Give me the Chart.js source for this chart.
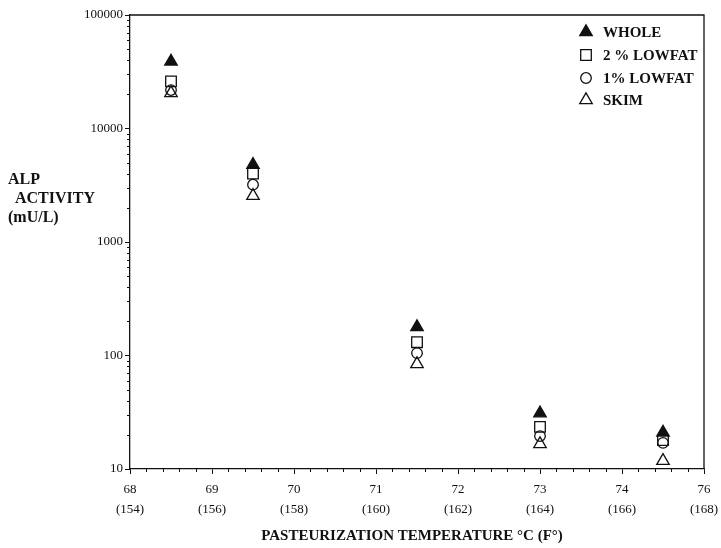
<!DOCTYPE html>
<html>
<head>
<meta charset="utf-8">
<script src="https://cdn.jsdelivr.net/npm/chart.js@4.4.1/dist/chart.umd.min.js"></script>
<style>
  body { margin: 0; background: #fff; }
  canvas { display: block; }
</style>
</head>
<body>
<canvas id="alp" width="721" height="548"></canvas>
<script>
// values (mU/L)
const temps = [68.5, 69.5, 71.5, 73, 74.5];
const whole = [39000, 4800, 178, 31, 21];
const lowfat2 = [26000, 4000, 131, 23.5, 18];
const lowfat1 = [21800, 3200, 105, 19.5, 17];
const skim = [20500, 2550, 84, 16.6, 11.8];

const seriesNames = ['WHOLE', '2 % LOWFAT', '1% LOWFAT', 'SKIM'];
const xTicks = [68, 69, 70, 71, 72, 73, 74, 75];
const xTickC = ['68', '69', '70', '71', '72', '73', '74', '76'];
const xTickF = ['(154)', '(156)', '(158)', '(160)', '(162)', '(164)', '(166)', '(168)'];
const yTicks = [10, 100, 1000, 10000, 100000];

const ink = '#111';
const serif = '"Liberation Serif", "DejaVu Serif", serif';

function pts(vals) {
    return temps.map((t, i) => ({ x: t, y: vals[i] }));
}

function makeSet(label, vals, style, radius, filled) {
    return {
        label: label,
        data: pts(vals),
        pointStyle: style,
        pointRadius: radius,
        pointHoverRadius: radius,
        pointBorderWidth: 1.3,
        borderColor: ink,
        backgroundColor: filled ? ink : 'rgba(0,0,0,0)',
        showLine: false
    };
}

// extra drawing: frame, minor ticks, legend, axis titles
const extras = {
    id: 'extras',
    afterDraw(chart) {
        const ctx = chart.ctx;
        const a = chart.chartArea;
        const xs = chart.scales.x;
        const ys = chart.scales.y;
        ctx.save();
        ctx.strokeStyle = ink;
        ctx.lineWidth = 1.3;
        ctx.beginPath();
        ctx.moveTo(a.left, a.top);
        ctx.lineTo(a.right, a.top);
        ctx.lineTo(a.right, a.bottom);
        ctx.stroke();

        // minor ticks
        ctx.lineWidth = 1;
        ctx.beginPath();
        for (let d = 10; d < 100000; d *= 10) {
            for (let k = 2; k <= 9; k++) {
                const y = Math.round(ys.getPixelForValue(d * k)) + 0.5;
                ctx.moveTo(a.left - 3, y);
                ctx.lineTo(a.left, y);
            }
        }
        for (let i = 0; i < 35; i++) {
            if (i % 5 === 0) continue;
            const x = Math.round(xs.getPixelForValue(68 + i * 0.2)) + 0.5;
            ctx.moveTo(x, a.bottom);
            ctx.lineTo(x, a.bottom + 3);
        }
        ctx.stroke();

        // legend
        const rowsY = [32, 55, 78, 100];
        chart.data.datasets.forEach((ds, i) => {
            ctx.fillStyle = ds.backgroundColor;
            ctx.strokeStyle = ink;
            ctx.lineWidth = 1.3;
            Chart.helpers.drawPoint(ctx, {
                pointStyle: ds.pointStyle,
                radius: ds.pointRadius,
                rotation: 0,
                borderWidth: 1.3
            }, 586, rowsY[i]);
            ctx.fillStyle = ink;
            ctx.font = 'bold 15px ' + serif;
            ctx.textAlign = 'left';
            ctx.textBaseline = 'middle';
            ctx.fillText(ds.label, 603, rowsY[i] + 1);
        });

        // axis titles
        ctx.fillStyle = ink;
        ctx.font = 'bold 16px ' + serif;
        ctx.textAlign = 'left';
        ctx.textBaseline = 'middle';
        ctx.fillText('ALP', 8, 180);
        ctx.fillText('ACTIVITY', 15, 199);
        ctx.fillText('(mU/L)', 8, 218);
        ctx.font = 'bold 15px ' + serif;
        ctx.textAlign = 'center';
        ctx.fillText('PASTEURIZATION TEMPERATURE \u00B0C (F\u00B0)', 412, 536);
        ctx.restore();
    }
};

new Chart(document.getElementById('alp'), {
    type: 'scatter',
    data: {
        datasets: [
            makeSet(seriesNames[0], whole, 'triangle', 7.2, true),
            makeSet(seriesNames[1], lowfat2, 'rect', 7.5, false),
            makeSet(seriesNames[2], lowfat1, 'circle', 5.3, false),
            makeSet(seriesNames[3], skim, 'triangle', 7.2, false)
        ]
    },
    options: {
        responsive: false,
        animation: false,
        layout: { padding: { top: 15, right: 17, left: 0, bottom: 0 } },
        plugins: {
            legend: { display: false },
            tooltip: { enabled: false }
        },
        scales: {
            x: {
                type: 'linear',
                min: 68,
                max: 75,
                afterBuildTicks(scale) {
                    scale.ticks = xTicks.map(v => ({ value: v }));
                },
                afterFit(scale) {
                    scale.height = 79;
                    scale.paddingRight = 0;
                    scale.paddingLeft = 0;
                },
                border: { display: true, color: ink, width: 1.3 },
                grid: { drawOnChartArea: false, color: ink, tickLength: 5 },
                ticks: {
                    color: ink,
                    padding: 6,
                    maxRotation: 0,
                    autoSkip: false,
                    font: { family: serif, size: 13, lineHeight: 1.5 },
                    callback(value, index) {
                        return [xTickC[index], xTickF[index]];
                    }
                }
            },
            y: {
                type: 'logarithmic',
                min: 10,
                max: 100000,
                afterBuildTicks(scale) {
                    scale.ticks = yTicks.map(v => ({ value: v }));
                },
                afterFit(scale) { scale.width = 130; },
                border: { display: true, color: ink, width: 1.3 },
                grid: { drawOnChartArea: false, color: ink, tickLength: 5 },
                ticks: {
                    color: ink,
                    padding: 2,
                    autoSkip: false,
                    font: { family: serif, size: 13 },
                    callback(value) { return String(value); }
                }
            }
        }
    },
    plugins: [extras]
});
</script>
</body>
</html>
